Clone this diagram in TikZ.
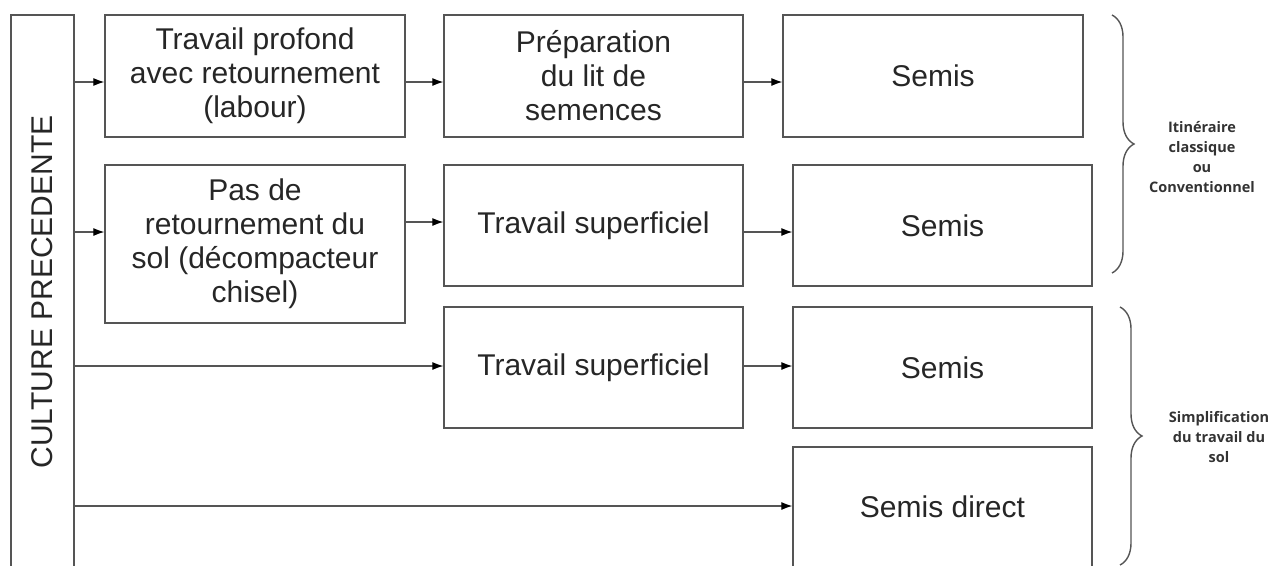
\documentclass[tikz,border=0pt]{standalone}
\usepackage{fontspec}
\setmainfont{Liberation Sans}
\newfontfamily\notefont{Open Sans}
\usetikzlibrary{arrows.meta,decorations.pathreplacing}

\definecolor{linegray}{HTML}{555555}
\tikzset{
  stepbox/.style={draw=linegray, line width=1.3pt, inner sep=0pt, align=center,
    font=\fontsize{30}{34}\selectfont, text=black!85},
  flow/.style={draw=linegray, line width=1.2pt, -{Latex[length=11pt,width=8pt,color=black]}},
  grp/.style={draw=linegray, line width=1.4pt, decorate, decoration={brace, amplitude=22pt}},
  note/.style={align=center, text=black!80, font=\notefont\bfseries\fontsize{14.5}{20}\selectfont},
}

\begin{document}
\begin{tikzpicture}[x=1pt, y=-1pt]
    \useasboundingbox (0,0) rectangle (1271,565);

    % Culture precedente (box runs off the bottom)
    \node[stepbox, minimum width=63pt, minimum height=554pt] (cult) at (42.5,292) {};
    \node[rotate=90, font=\fontsize{30}{34}\selectfont, text=black!85] (cultlbl) at (cult.center) {CULTURE PRECEDENTE};

    % Row 1
    \node[stepbox, minimum width=300pt, minimum height=122pt] (labour) at (255,76) {Travail profond\\avec retournement\\(labour)};
    \node[stepbox, minimum width=299pt, minimum height=122pt] (prep) at (593.5,76) {Préparation\\du lit de\\semences};
    \node[stepbox, minimum width=300pt, minimum height=122pt] (semisA) at (933,76) {Semis};

    % Row 2
    \node[stepbox, minimum width=300pt, minimum height=158pt] (chisel) at (255,244) {Pas de\\retournement du\\sol (décompacteur\\chisel)};
    \node[stepbox, minimum width=299pt, minimum height=121pt] (superA) at (593.5,225.5) {Travail superficiel};
    \node[stepbox, minimum width=299pt, minimum height=121pt] (semisB) at (942.5,225.5) {Semis};

    % Row 3
    \node[stepbox, minimum width=299pt, minimum height=121pt] (superB) at (593.5,367.5) {Travail superficiel};
    \node[stepbox, minimum width=299pt, minimum height=121pt] (semisC) at (942.5,367.5) {Semis};

    % Row 4 (box runs off the bottom)
    \node[stepbox, minimum width=299pt, minimum height=120pt] (direct) at (942.5,507) {Semis direct};

    % Arrow levels
    \coordinate (lv1) at (0,82);
    \coordinate (lv2) at (0,232);
    \coordinate (lv3) at (0,222);
    \coordinate (lv4) at (0,366);
    \coordinate (lv5) at (0,506);

    % Arrows
    \draw[flow] (cult.east |- lv1) -- (labour.west |- lv1);
    \draw[flow] (labour.east |- lv1) -- (prep.west |- lv1);
    \draw[flow] (prep.east |- lv1) -- (semisA.west |- lv1);
    \draw[flow] (cult.east |- lv2) -- (chisel.west |- lv2);
    \draw[flow] (chisel.east |- lv3) -- (superA.west |- lv3);
    \draw[flow] (superA.east |- lv2) -- (semisB.west |- lv2);
    \draw[flow] (cult.east |- lv4) -- (superB.west |- lv4);
    \draw[flow] (superB.east |- lv4) -- (semisC.west |- lv4);
    \draw[flow] (cult.east |- lv5) -- (direct.west |- lv5);

    % Braces and their labels
    \draw[grp] (1112,15) -- (1112,273);
    \draw[grp] (1120,307) -- (1120,565);
    \node[note] (classic) at (1202,157) {Itinéraire\\classique\\ou\\Conventionnel};
    \node[note] (simple) at (1219,437) {Simplification\\du travail du\\sol};

\end{tikzpicture}
\end{document}
